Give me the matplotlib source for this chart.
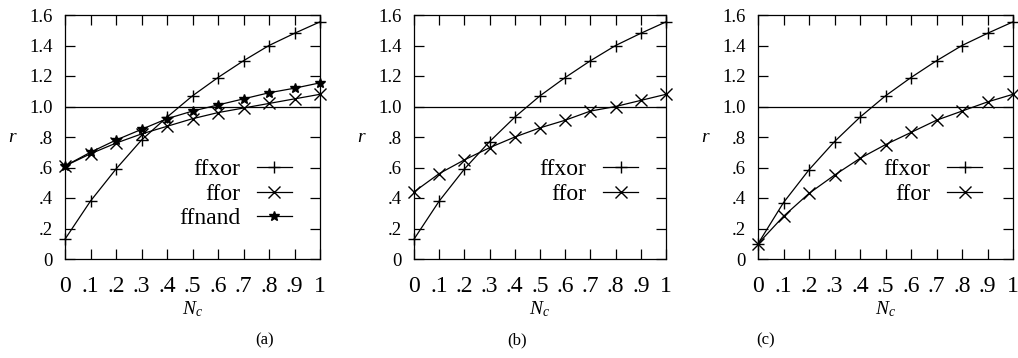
import matplotlib
matplotlib.use("Agg")
import matplotlib.pyplot as plt

plt.rcParams['font.family'] = ['Liberation Serif', 'DejaVu Serif']
plt.rcParams['mathtext.fontset'] = 'custom'
plt.rcParams['mathtext.rm'] = 'Liberation Serif'
plt.rcParams['mathtext.it'] = 'Liberation Serif:italic'

nc = [0, .1, .2, .3, .4, .5, .6, .7, .8, .9, 1.0]
xtick_labels = ['0', '.1', '.2', '.3', '.4', '.5', '.6', '.7', '.8', '.9', '1']
ytick_vals = [0, .2, .4, .6, .8, 1.0, 1.2, 1.4, 1.6]
ytick_labels = ['0', '.2', '.4', '.6', '.8', '1.0', '1.2', '1.4', '1.6']

a_ffxor = [0.13, 0.38, 0.59, 0.78, 0.93, 1.07, 1.19, 1.30, 1.40, 1.48, 1.555]
a_ffor = [0.61, 0.69, 0.76, 0.82, 0.87, 0.92, 0.96, 0.99, 1.02, 1.05, 1.08]
a_ffnand = [0.61, 0.70, 0.78, 0.85, 0.92, 0.97, 1.01, 1.05, 1.09, 1.12, 1.155]

b_ffxor = [0.13, 0.38, 0.59, 0.77, 0.93, 1.07, 1.19, 1.30, 1.40, 1.48, 1.555]
b_ffor = [0.44, 0.56, 0.65, 0.73, 0.80, 0.86, 0.91, 0.97, 1.00, 1.04, 1.08]

c_ffxor = [0.10, 0.37, 0.585, 0.77, 0.93, 1.07, 1.19, 1.30, 1.40, 1.48, 1.555]
c_ffor = [0.10, 0.28, 0.43, 0.55, 0.66, 0.75, 0.83, 0.91, 0.97, 1.03, 1.08]

panel_labels = ['(a)', '(b)', '(c)']

fig = plt.figure(figsize=(10.18, 3.58), dpi=100)
W, H = 1018, 358
boxes = [(65, 320), (414, 666), (758, 1013)]
top, bot = 15, 259

series = [
    [(a_ffxor, '+', 'ffxor'), (a_ffor, 'x', 'ffor'), (a_ffnand, '*', 'ffnand')],
    [(b_ffxor, '+', 'ffxor'), (b_ffor, 'x', 'ffor')],
    [(c_ffxor, '+', 'ffxor'), (c_ffor, 'x', 'ffor')],
]
legend_anchor = [(0.89, 0.41), (0.89, 0.41), (0.88, 0.41)]
label_x = [265, 517, 766]

for i, (l, r) in enumerate(boxes):
    ax = fig.add_axes([l / W, 1 - bot / H, (r - l) / W, (bot - top) / H])
    ax.axhline(1.0, color='black', lw=0.9)
    for vals, mk, name in series[i]:
        ms = 9 if mk != '*' else 7
        ax.plot(nc, vals, color='black', lw=0.9, marker=mk, ms=ms,
                markeredgewidth=1.0, label=name, clip_on=False)
    ax.set_xlim(0, 1)
    ax.set_ylim(0, 1.6)
    ax.set_xticks(nc)
    ax.set_xticklabels(xtick_labels, fontsize=17)
    ax.set_yticks(ytick_vals)
    ax.set_yticklabels(ytick_labels, fontsize=13.5)
    ax.tick_params(direction='in', length=7, width=0.9, top=True, right=True)
    ax.tick_params(axis='x', pad=12)
    ax.tick_params(axis='y', pad=9)
    for s in ax.spines.values():
        s.set_linewidth(0.9)
    ax.set_xlabel('$N_c$', fontsize=14, labelpad=2)
    ax.set_ylabel('$r$', fontsize=14, rotation=0, labelpad=12, va='center')
    ax.legend(loc='upper right', bbox_to_anchor=legend_anchor[i], frameon=False,
              markerfirst=False, fontsize=17, handlelength=1.5, handletextpad=0.7,
              labelspacing=0.12, borderaxespad=0, borderpad=0)
    fig.text(label_x[i] / W, 1 - 340 / H, panel_labels[i], fontsize=12,
             ha='center', va='center')

fig.savefig('out.png', dpi=100)
